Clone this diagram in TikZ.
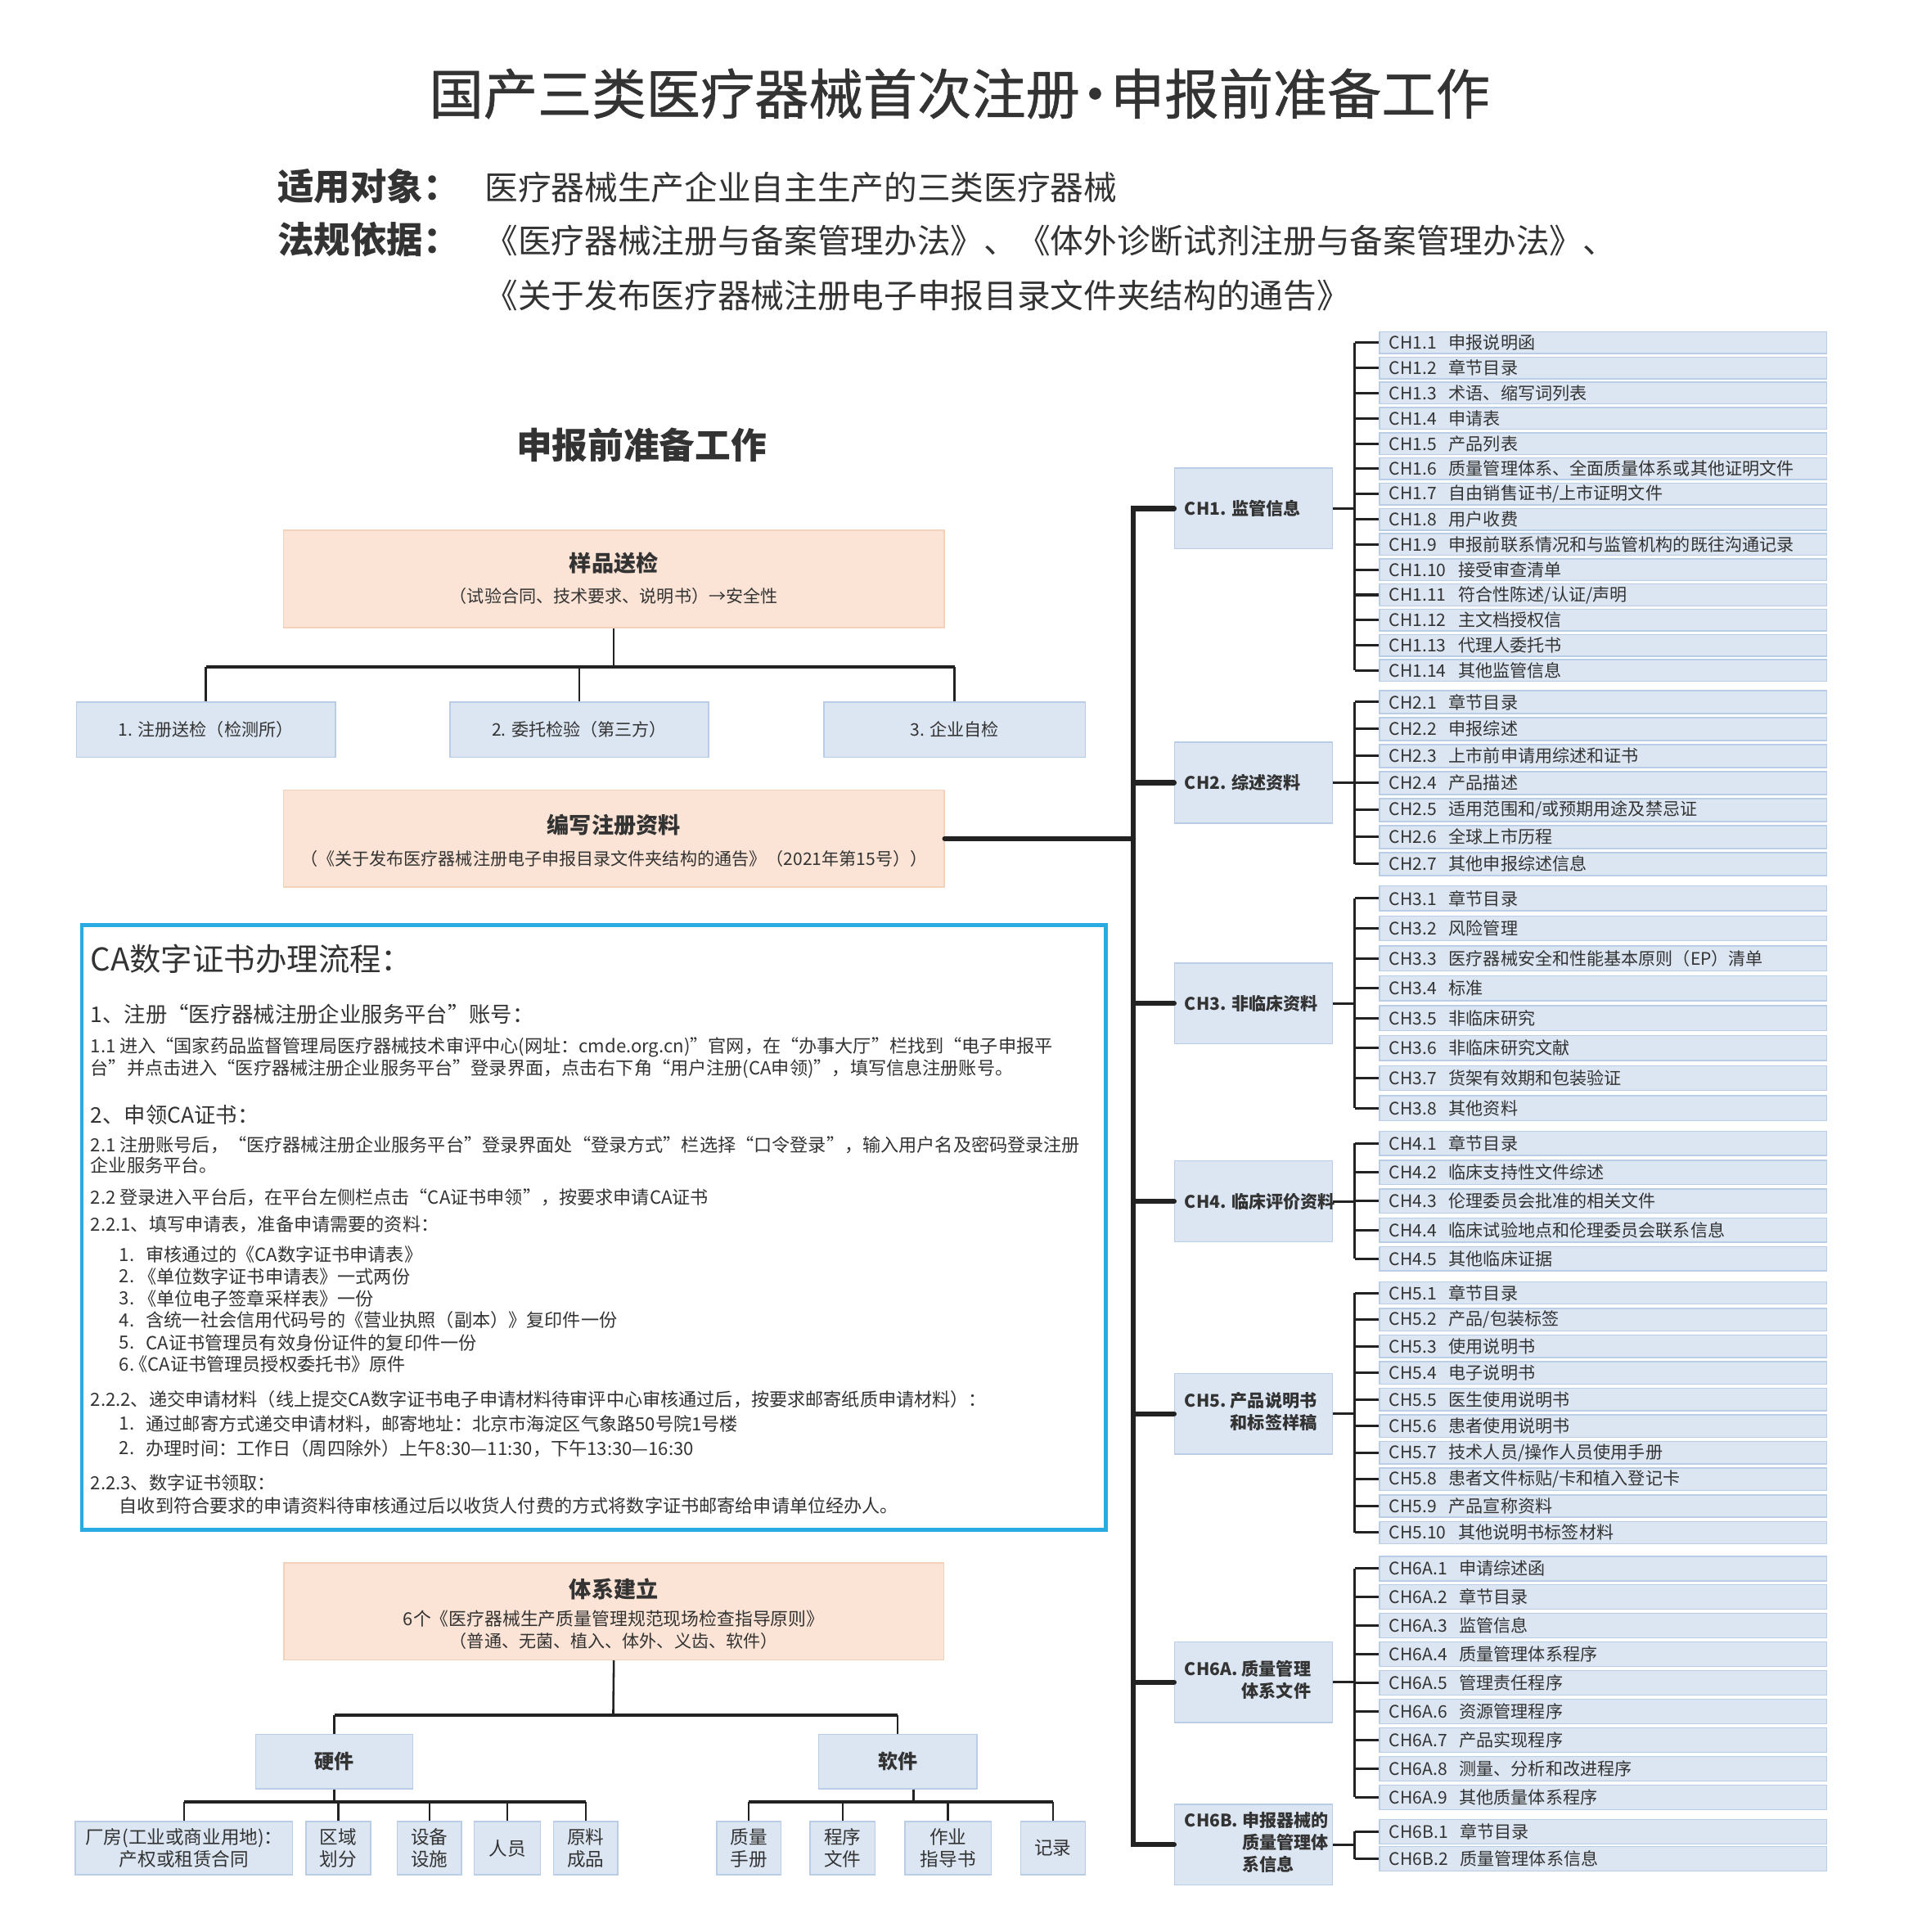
\documentclass[tikz,border=0pt]{standalone}
\usepackage{fontspec}
\setmainfont{Noto Sans CJK SC}
\newfontfamily\titlefont{Noto Sans CJK SC}[FakeBold=0.8]
\usetikzlibrary{calc}
\definecolor{txt}{HTML}{333333}
\definecolor{peachfill}{HTML}{FBE4D5}
\definecolor{peachline}{HTML}{F3D2BB}
\definecolor{bluefill}{HTML}{DCE6F2}
\definecolor{blueline}{HTML}{B9CDE6}
\definecolor{cablue}{HTML}{29ABE2}
\definecolor{linec}{HTML}{222222}
\newcommand\myfs[2]{\fontsize{#1}{#2}\selectfont}
\newcommand\chitem[2]{#1\hspace{0.7em}#2}
\tikzset{
  peachbox/.style={draw=peachline, fill=peachfill, line width=1pt, inner sep=0pt},
  bluebox/.style={draw=blueline, fill=bluefill, line width=1pt, inner sep=0pt},
  itembox/.style={bluebox, anchor=west, text width=347pt, inner xsep=8pt, inner ysep=0pt, align=left, font=\myfs{14}{16}, text=txt},
  chbox/.style={bluebox, minimum width=128pt, minimum height=65.5pt},
  chlabel/.style={anchor=west, inner sep=0pt, font=\myfs{14}{17.7}\bfseries, text=txt},
  lbl/.style={inner sep=0pt, text=txt},
  catext/.style={lbl, anchor=west, font=\myfs{14.7}{17}},
  leaf/.style={bluebox, minimum height=43.2pt, font=\myfs{15}{17.6}, text=txt, align=center},
  trunkline/.style={line width=4.2pt, draw=linec},
  brk/.style={line width=2pt, draw=linec},
  connv/.style={line width=1.7pt, draw=linec},
  connbar/.style={line width=2.4pt, draw=linec},
}
\newcommand\chgroup[6]{%
  \foreach \itm [count=\n] in {#6} {%
    \pgfmathsetmacro\yy{#3+(\n-1)*#4}%
    \node[itembox, minimum height=#5pt] (#1-\n) at (1118.6,\yy) {\chitem{#2.\n}{\itm}};
  }%
}
\newcommand\chbracket[3]{%
  \draw[brk] (#1-1.west -| bx) -- (#1-#2.west -| bx);
  \foreach \n in {1,...,#2} {\draw[brk] (#1-\n.west -| bx) -- (#1-\n.west);}
  \draw[brk] (#3.east) -- (#3.east -| bx);
}
\begin{document}
\begin{tikzpicture}[x=1pt,y=-1pt]
\useasboundingbox (0,0) rectangle (1552,1567.3);
\fill[white] (0,0) rectangle (1552,1567.3);
\coordinate (bx) at (1099,0);
\coordinate (tx) at (919.5,0);

% ---------------- header
\node[lbl, font=\titlefont\myfs{44}{50}] (title) at (778.5,76) {国产三类医疗器械首次注册\kern-0.22em•\kern-0.22em申报前准备工作};
\node[lbl, anchor=west, font=\myfs{29.5}{34}\bfseries] (h1) at (225,151) {适用对象：};
\node[lbl, anchor=west, font=\myfs{27}{32}] (h1t) at (393,152) {医疗器械生产企业自主生产的三类医疗器械};
\node[lbl, anchor=west, font=\myfs{29.5}{34}\bfseries] (h2) at (225,194) {法规依据：};
\node[lbl, anchor=west, font=\myfs{27}{32}] (h2t) at (393,195) {《医疗器械注册与备案管理办法》、《体外诊断试剂注册与备案管理办法》、};
\node[lbl, anchor=west, font=\myfs{27}{32}] (h3t) at (393,240) {《关于发布医疗器械注册电子申报目录文件夹结构的通告》};

\node[lbl, font=\myfs{29}{34}\bfseries] (sec) at (520.5,361) {申报前准备工作};

% ---------------- left upper tree
\node[peachbox, minimum width=536pt, minimum height=79pt] (ypsj) at (498,469.8) {};
\node[lbl, font=\myfs{18}{22}\bfseries] (ypsjt) at (498,457) {样品送检};
\node[lbl, font=\myfs{14}{17}] (ypsjs) at (498,483.5) {（试验合同、技术要求、说明书）→安全性};
\node[bluebox, minimum width=210pt, minimum height=44.8pt, font=\myfs{14}{17}, text=txt] (k1) at (167,592) {1. 注册送检（检测所）};
\node[bluebox, minimum width=210pt, minimum height=44.8pt, font=\myfs{14}{17}, text=txt] (k2) at (470,592) {2. 委托检验（第三方）};
\node[bluebox, minimum width=212pt, minimum height=44.8pt, font=\myfs{14}{17}, text=txt] (k3) at (774.5,592) {3. 企业自检};
\coordinate (lbar) at (498,541);
\draw[connv] (ypsj.south) -- (lbar);
\draw[connbar] (k1.north |- lbar) -- (k3.north |- lbar);
\foreach \k in {k1,k2,k3} \draw[connv] (\k.north |- lbar) -- (\k.north);

\node[peachbox, minimum width=536pt, minimum height=78.6pt] (bxzl) at (498,680.3) {};
\node[lbl, font=\myfs{18}{22}\bfseries] (bxzlt) at (498,669) {编写注册资料};
\node[lbl, font=\myfs{14}{17}] (bxzls) at (498,696.5) {（《关于发布医疗器械注册电子申报目录文件夹结构的通告》（2021年第15号））};

% ---------------- CA box
\node[draw=cablue, line width=3pt, minimum width=830.5pt, minimum height=490.5pt, inner sep=0pt] (cabox) at (481.75,995.75) {};
\node[lbl, anchor=west, font=\myfs{25.5}{30}] (ca0) at (73.3,778) {CA数字证书办理流程：};
\node[lbl, anchor=west, font=\myfs{17.5}{21}] (ca1) at (73.3,823) {1、注册“医疗器械注册企业服务平台”账号：};
\node[catext] (ca2) at (73.3,849.7) {1.1 进入“国家药品监督管理局医疗器械技术审评中心(网址：cmde.org.cn)”官网，在“办事大厅”栏找到“电子申报平};
\node[catext] (ca3) at (73.3,867.4) {台”并点击进入“医疗器械注册企业服务平台”登录界面，点击右下角“用户注册(CA申领)”，填写信息注册账号。};
\node[lbl, anchor=west, font=\myfs{17.5}{21}] (ca4) at (73.3,904.6) {2、申领CA证书：};
\node[catext] (ca5) at (73.3,928.9) {2.1 注册账号后，“医疗器械注册企业服务平台”登录界面处“登录方式”栏选择“口令登录”，输入用户名及密码登录注册};
\node[catext] (ca6) at (73.3,945.3) {企业服务平台。};
\node[catext] (ca7) at (73.3,971.4) {2.2 登录进入平台后，在平台左侧栏点击“CA证书申领”，按要求申请CA证书};
\node[catext] (ca8) at (73.3,993.5) {2.2.1、填写申请表，准备申请需要的资料：};
\node[catext] (cn1) at (96.6,1017.9) {1.};
\node[catext] (cl1) at (118.4,1017.9) {审核通过的《CA数字证书申请表》};
\node[catext] (cn2) at (96.6,1035.6) {2.};
\node[catext] (cl2) at (112,1035.6) {《单位数字证书申请表》一式两份};
\node[catext] (cn3) at (96.6,1053.3) {3.};
\node[catext] (cl3) at (112,1053.3) {《单位电子签章采样表》一份};
\node[catext] (cn4) at (96.6,1071) {4.};
\node[catext] (cl4) at (118.4,1071) {含统一社会信用代码号的《营业执照（副本）》复印件一份};
\node[catext] (cn5) at (96.6,1089.1) {5.};
\node[catext] (cl5) at (118.4,1089.1) {CA证书管理员有效身份证件的复印件一份};
\node[catext] (cn6) at (96.6,1106.8) {6.};
\node[catext] (cl6) at (105,1106.8) {《CA证书管理员授权委托书》原件};
\node[catext] (ca9) at (73.3,1135.2) {2.2.2、递交申请材料（线上提交CA数字证书电子申请材料待审评中心审核通过后，按要求邮寄纸质申请材料）：};
\node[catext] (cm1) at (96.6,1155.1) {1.};
\node[catext] (cq1) at (118.4,1155.1) {通过邮寄方式递交申请材料，邮寄地址：北京市海淀区气象路50号院1号楼};
\node[catext] (cm2) at (96.6,1175) {2.};
\node[catext] (cq2) at (118.4,1175) {办理时间：工作日（周四除外）上午8:30—11:30，下午13:30—16:30};
\node[catext] (ca10) at (73.3,1202.7) {2.2.3、数字证书领取：};
\node[catext] (ca11) at (96.6,1221.5) {自收到符合要求的申请资料待审核通过后以收货人付费的方式将数字证书邮寄给申请单位经办人。};

% ---------------- bottom tree
\node[peachbox, minimum width=535.3pt, minimum height=78.4pt] (txjl) at (498,1307.2) {};
\node[lbl, font=\myfs{18}{22}\bfseries] (txjlt) at (498,1289) {体系建立};
\node[lbl, font=\myfs{14.5}{17}] (txjl2) at (498,1313.3) {6个《医疗器械生产质量管理规范现场检查指导原则》};
\node[lbl, font=\myfs{14}{17}] (txjl3) at (498,1331) {（普通、无菌、植入、体外、义齿、软件）};
\node[bluebox, minimum width=127.4pt, minimum height=44pt, font=\myfs{16}{19}\bfseries, text=txt] (hw) at (271.3,1429) {硬件};
\node[bluebox, minimum width=128.6pt, minimum height=44pt, font=\myfs{16}{19}\bfseries, text=txt] (sw) at (728.3,1429) {软件};
\coordinate (tbar) at (497.5,1391.4);
\draw[connv] (txjl.south) -- (tbar);
\draw[connbar] (hw.north |- tbar) -- (sw.north |- tbar);
\draw[connv] (hw.north |- tbar) -- (hw.north);
\draw[connv] (sw.north |- tbar) -- (sw.north);

\node[leaf, minimum width=176.2pt] (hc1) at (149.3,1499.3) {厂房(工业或商业用地)：\\产权或租赁合同};
\node[leaf, minimum width=52.4pt] (hc2) at (274.5,1499.3) {区域\\划分};
\node[leaf, minimum width=52pt] (hc3) at (348.4,1499.3) {设备\\设施};
\node[leaf, minimum width=53.6pt] (hc4) at (411.6,1499.3) {人员};
\node[leaf, minimum width=52pt] (hc5) at (475.2,1499.3) {原料\\成品};
\node[leaf, minimum width=52pt] (sc1) at (607.5,1499.3) {质量\\手册};
\node[leaf, minimum width=52.8pt] (sc2) at (683.6,1499.3) {程序\\文件};
\node[leaf, minimum width=70pt] (sc3) at (769.2,1499.3) {作业\\指导书};
\node[leaf, minimum width=52.6pt] (sc4) at (854.3,1499.3) {记录};
\coordinate (hbar) at (271.3,1461.6);
\draw[connv] (hw.south) -- (hbar);
\draw[connbar] (hc1.north |- hbar) -- (hc5.north |- hbar);
\foreach \k in {hc1,hc2,hc3,hc4,hc5} \draw[connv] (\k.north |- hbar) -- (\k.north);
\coordinate (sbar) at (741.3,1461.6);
\draw[connv] (sbar |- sw.south) -- (sbar);
\draw[connbar] (sc1.north |- sbar) -- (sc4.north |- sbar);
\foreach \k in {sc1,sc2,sc3,sc4} \draw[connv] (\k.north |- sbar) -- (\k.north);

% ---------------- right column
\foreach \nm/\yc in {ch1/412.5, ch2/635, ch3/814, ch4/974.5, ch5/1147, ch6a/1364.6, ch6b/1496.4}
  \node[chbox] (\nm) at (1017,\yc) {};
\node[chlabel] (ch1t) at (961,412.5) {CH1. 监管信息};
\node[chlabel] (ch2t) at (961,635) {CH2. 综述资料};
\node[chlabel] (ch3t) at (961,814) {CH3. 非临床资料};
\node[chlabel] (ch4t) at (961,974.5) {CH4. 临床评价资料};
\node[chlabel] (ch5t) at (961,1147) {\begin{tabular}{@{}l@{}l@{}}CH5.\kern0.25em&产品说明书\\&和标签样稿\end{tabular}};
\node[chlabel] (ch6at) at (961,1364.6) {\begin{tabular}{@{}l@{}l@{}}CH6A.\kern0.25em&质量管理\\&体系文件\end{tabular}};
\node[chlabel] (ch6bt) at (961,1496.4) {\begin{tabular}{@{}l@{}l@{}}CH6B.\kern0.25em&申报器械的\\&质量管理体\\&系信息\end{tabular}};

\chgroup{g1}{CH1}{278}{20.46}{17.6}{申报说明函,章节目录,术语、缩写词列表,申请表,产品列表,质量管理体系、全面质量体系或其他证明文件,自由销售证书/上市证明文件,用户收费,申报前联系情况和与监管机构的既往沟通记录,接受审查清单,符合性陈述/认证/声明,主文档授权信,代理人委托书,其他监管信息}
\chgroup{g2}{CH2}{569.5}{21.9}{18.5}{章节目录,申报综述,上市前申请用综述和证书,产品描述,适用范围和/或预期用途及禁忌证,全球上市历程,其他申报综述信息}
\chgroup{g3}{CH3}{728.8}{24.3}{20.2}{章节目录,风险管理,医疗器械安全和性能基本原则（EP）清单,标准,非临床研究,非临床研究文献,货架有效期和包装验证,其他资料}
\chgroup{g4}{CH4}{927.6}{23.4}{19.7}{章节目录,临床支持性文件综述,伦理委员会批准的相关文件,临床试验地点和伦理委员会联系信息,其他临床证据}
\chgroup{g5}{CH5}{1048.9}{21.6}{18.1}{章节目录,产品/包装标签,使用说明书,电子说明书,医生使用说明书,患者使用说明书,技术人员/操作人员使用手册,患者文件标贴/卡和植入登记卡,产品宣称资料,其他说明书标签材料}
\chgroup{g6}{CH6A}{1272.4}{23.2}{19.9}{申请综述函,章节目录,监管信息,质量管理体系程序,管理责任程序,资源管理程序,产品实现程序,测量、分析和改进程序,其他质量体系程序}
\chgroup{g7}{CH6B}{1485.9}{22.1}{19.9}{章节目录,质量管理体系信息}

\chbracket{g1}{14}{ch1}
\chbracket{g2}{7}{ch2}
\chbracket{g3}{8}{ch3}
\chbracket{g4}{5}{ch4}
\chbracket{g5}{10}{ch5}
\chbracket{g6}{9}{ch6a}
\chbracket{g7}{2}{ch6b}

% trunk
\draw[trunkline, line cap=round, line join=miter] (ch1.west) -- (ch1.west -| tx) -- (ch6b.west -| tx) -- (ch6b.west);
\foreach \nm in {ch2,ch3,ch4,ch5,ch6a} \draw[trunkline, line cap=round] (\nm.west -| tx) -- (\nm.west);
\draw[trunkline, line cap=round] (bxzl.east) -- (bxzl.east -| tx);
\end{tikzpicture}
\end{document}
